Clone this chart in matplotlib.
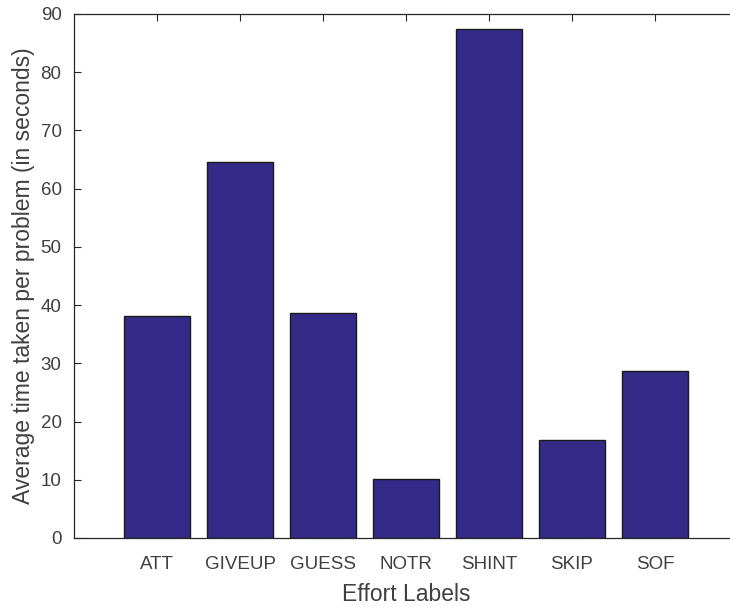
import matplotlib
matplotlib.use("Agg")
import matplotlib.pyplot as plt

# Average time per problem for each effort label (seconds)
labels = ["ATT", "GIVEUP", "GUESS", "NOTR", "SHINT", "SKIP", "SOF"]
avg_time = [38.2, 64.5, 38.7, 10.2, 87.4, 16.8, 28.7]
positions = list(range(1, len(labels) + 1))
y_ticks = list(range(0, 91, 10))

BAR = "#352A87"
INK = "#404040"
AXIS = "#262626"

plt.rcParams["font.family"] = ["Liberation Sans", "DejaVu Sans"]

W, H = 730, 607
fig = plt.figure(figsize=(W / 100, H / 100), dpi=100)
# box runs past the right edge of the canvas, like the original export
ax = fig.add_axes([74 / W, (H - 538) / H, (738 - 74) / W, (538 - 14) / H])

ax.bar(positions, avg_time, width=0.8, color=BAR, edgecolor="#1a1a1a",
       linewidth=1.0, zorder=2)

ax.set_xlim(0, 8)
ax.set_ylim(0, 90)
ax.set_xticks(positions)
ax.set_xticklabels(labels)
ax.set_yticks(y_ticks)

ax.tick_params(direction="in", length=5, width=0.8, color=AXIS,
               labelcolor=INK, labelsize=13.5, top=True, right=True)
ax.tick_params(axis="x", pad=13)
ax.tick_params(axis="y", pad=9)
for side in ax.spines.values():
    side.set_color(AXIS)
    side.set_linewidth(0.9)

ax.set_xlabel("Effort Labels", fontsize=16.5, color=INK, labelpad=7)
ax.set_ylabel("Average time taken per problem (in seconds)", fontsize=16.5,
              color=INK, labelpad=4)

fig.savefig("out.png", dpi=100)
